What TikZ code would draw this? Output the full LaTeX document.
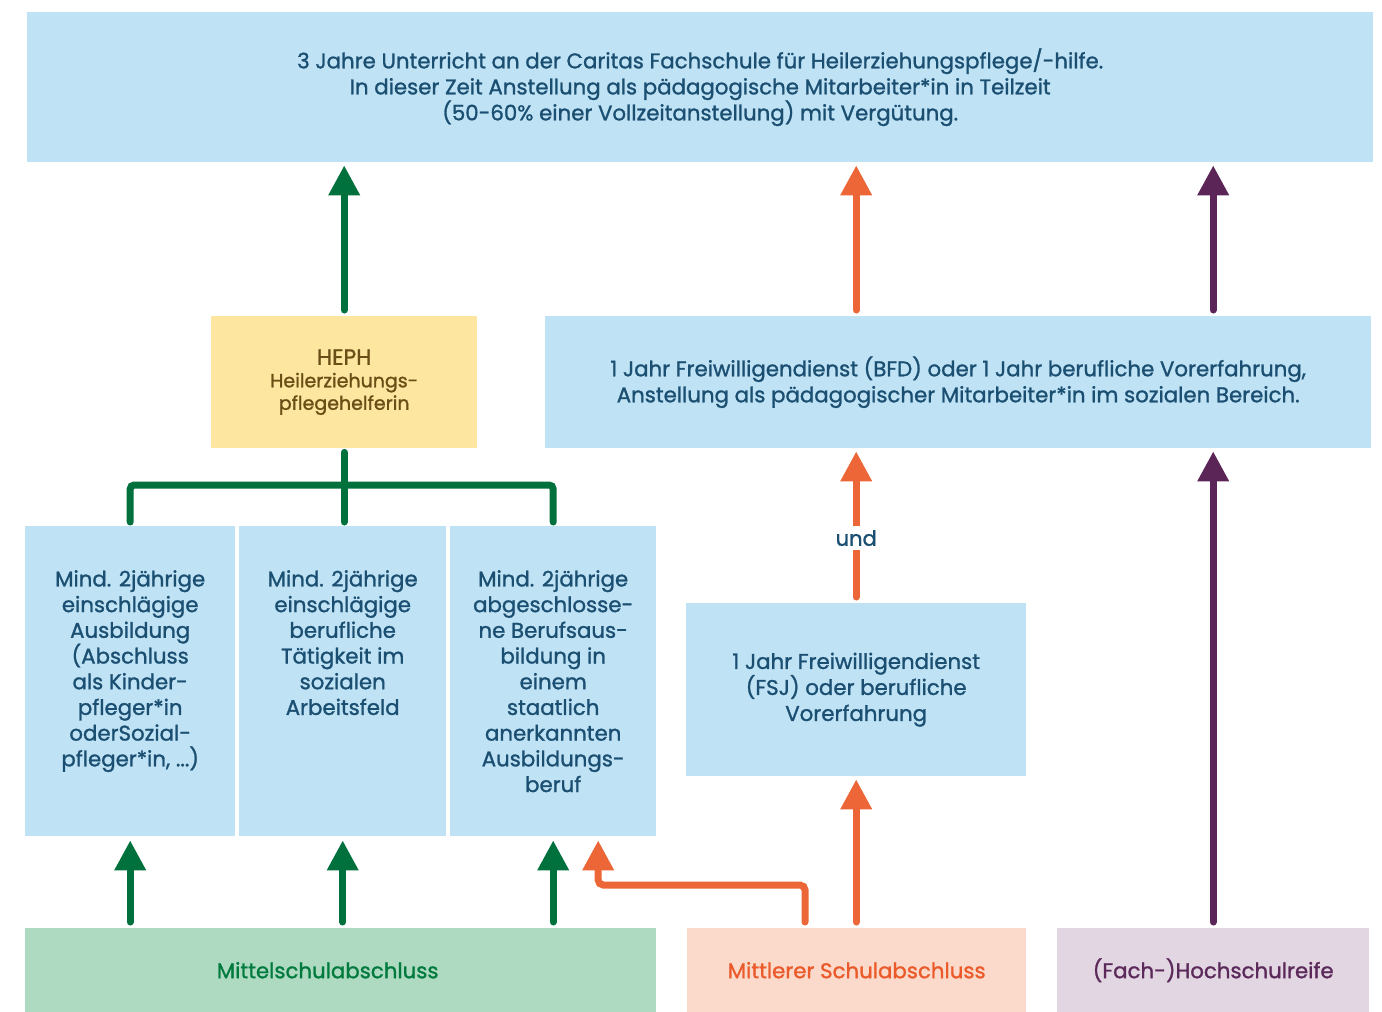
\documentclass[tikz,border=0pt]{standalone}
\usepackage{fontspec}
\setmainfont{Poppins}[FakeBold=1.2]
\usetikzlibrary{arrows.meta}
\definecolor{boxblue}{HTML}{BFE2F4}
\definecolor{txtblue}{HTML}{1B4F72}
\definecolor{hephfill}{HTML}{FCE6A0}
\definecolor{hephtxt}{HTML}{6B4E16}
\definecolor{agreen}{HTML}{00703C}
\definecolor{aorange}{HTML}{EC6637}
\definecolor{apurple}{HTML}{5B2557}
\definecolor{mgreen}{HTML}{AEDAC2}
\definecolor{morange}{HTML}{FBDACC}
\definecolor{mpurple}{HTML}{E2D6E2}
\definecolor{tgreen}{HTML}{007A3D}
\definecolor{torange}{HTML}{EA5A2A}
\definecolor{tpurple}{HTML}{5B2A5B}
\begin{document}
\begin{tikzpicture}[x=1pt,y=-1pt,
  box/.style={rectangle, fill=boxblue, draw=none, inner sep=0pt, anchor=north west, text=txtblue, align=center, font=\fontsize{21.3}{26}\selectfont},
  coltext/.style={anchor=north, text=txtblue, align=center, inner sep=0pt, font=\fontsize{21.3}{25.7}\selectfont},
  arr/.style={line width=7pt, line cap=round, -{Triangle[width=30pt,length=30pt]}, shorten <=6pt, shorten >=3pt},
  treeline/.style={line width=7pt, line cap=round, rounded corners=4pt, draw=agreen}
]
\useasboundingbox (0,0) rectangle (1382,1012);

% boxes
\node[box, minimum width=1346pt, minimum height=150pt] (top) at (27,12)
  {3 Jahre Unterricht an der Caritas Fachschule für Heilerziehungspflege/-hilfe.\\
   In dieser Zeit Anstellung als pädagogische Mitarbeiter*in in Teilzeit\\
   (50-60\% einer Vollzeitanstellung) mit Vergütung.};
\node[box, fill=hephfill, text=hephtxt, minimum width=266pt, minimum height=132pt,
  font=\fontsize{19}{22.5}\selectfont] (heph) at (211,316)
  {{\fontsize{22}{22.5}\selectfont HEPH}\\Heilerziehungs-\\pflegehelferin};
\node[box, minimum width=826pt, minimum height=132pt] (bfd) at (545,316)
  {1 Jahr Freiwilligendienst (BFD) oder 1 Jahr berufliche Vorerfahrung,\\
   Anstellung als pädagogischer Mitarbeiter*in im sozialen Bereich.};
\node[box, minimum width=210pt, minimum height=310pt] (b1) at (25,526) {};
\node[box, minimum width=207pt, minimum height=310pt] (b2) at (239,526) {};
\node[box, minimum width=206pt, minimum height=310pt] (b3) at (450,526) {};
\node[coltext] (t1) at ([yshift=-44pt]b1.north)
  {Mind. 2jährige\\einschlägige\\Ausbildung\\(Abschluss\\als Kinder-\\pfleger*in\\oderSozial-\\pfleger*in, ...)};
\node[coltext] (t2) at ([yshift=-44pt]b2.north)
  {Mind. 2jährige\\einschlägige\\berufliche\\Tätigkeit im\\sozialen\\Arbeitsfeld};
\node[coltext] (t3) at ([yshift=-44pt]b3.north)
  {Mind. 2jährige\\abgeschlosse-\\ne Berufsaus-\\bildung in\\einem\\staatlich\\anerkannten\\Ausbildungs-\\beruf};
\node[box, minimum width=340pt, minimum height=173pt] (fsj) at (686,603)
  {1 Jahr Freiwilligendienst\\(FSJ) oder berufliche\\Vorerfahrung};
\node[box, fill=mgreen, text=tgreen, minimum width=631pt, minimum height=84pt] (mittel) at (25,928) {};
\node[text=tgreen, inner sep=0pt, font=\fontsize{21.3}{26}\selectfont] (mtext) at ([xshift=-13pt]mittel.center) {Mittelschulabschluss};
\node[box, fill=morange, text=torange, minimum width=339pt, minimum height=84pt] (mittler) at (687,928) {Mittlerer Schulabschluss};
\node[box, fill=mpurple, text=tpurple, minimum width=312pt, minimum height=84pt] (fach) at (1057,928) {(Fach-)Hochschulreife};

% top arrows
\draw[arr, agreen] (heph.north) -- (heph.north |- top.south);
\draw[arr, aorange] (fsj.north |- bfd.north) -- (fsj.north |- top.south);
\draw[arr, apurple] (fach.north |- bfd.north) -- (fach.north |- top.south);

% tree
\coordinate (j) at (heph.south |- 0,485);
\draw[treeline, shorten <=4pt, shorten >=4pt] (heph.south) -- (heph.south |- b2.north);
\draw[treeline, shorten <=4pt, shorten >=4pt] (b1.north) |- (j) -| (b3.north);

% orange middle with label
\draw[arr, aorange] (fsj.north) -- node[pos=0.42, fill=white, inner sep=4pt, text=txtblue, font=\fontsize{21}{22}\selectfont] (und) {und} (fsj.north |- bfd.south);
\draw[arr, aorange] (fsj.south |- mittler.north) -- (fsj.south);

% bottom green arrows
\draw[arr, agreen, shorten >=4pt] (b1.south |- mittel.north) -- (b1.south);
\draw[arr, agreen, shorten >=4pt] (b2.south |- mittel.north) -- (b2.south);
\draw[arr, agreen, shorten >=4pt] (b3.south |- mittel.north) -- (b3.south);

% orange elbow
\coordinate (os) at ([xshift=118pt]mittler.north west);
\coordinate (oe) at ([xshift=45pt]b3.south);
\coordinate (oc) at (os |- 0,885);
\draw[arr, aorange, rounded corners=5pt, shorten >=4pt] (os) -- (oc) -| (oe);

% purple long
\draw[arr, apurple] (fach.north) -- (fach.north |- bfd.south);
\end{tikzpicture}
\end{document}
